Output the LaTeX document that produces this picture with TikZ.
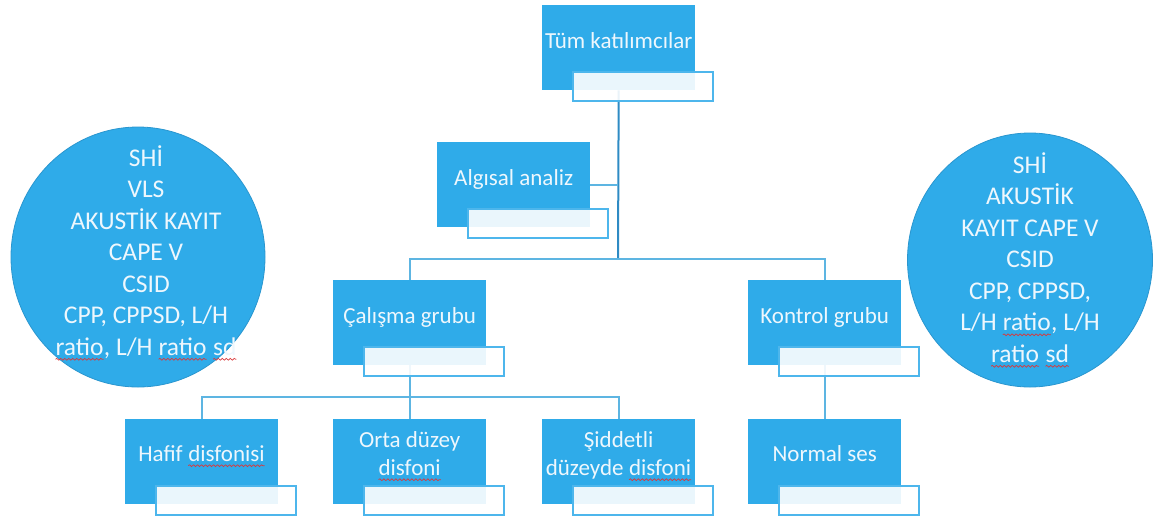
\documentclass[tikz,border=0pt]{standalone}
\usepackage{fontspec}
\setmainfont{Carlito}
\usepackage{tikz}
\usetikzlibrary{shapes.geometric,decorations.pathmorphing}
\usepackage{xcolor}

\definecolor{cardblue}{HTML}{2FABE9}
\definecolor{edgeblue}{HTML}{4DB6EC}
\definecolor{linkblue}{HTML}{5DB5E2}
\definecolor{trunkblue}{HTML}{2E8BC4}
\definecolor{rimblue}{HTML}{2A96CF}
\definecolor{inkwhite}{HTML}{EEF7FD}
\definecolor{squigred}{HTML}{D9383A}

% red wavy underline (spell check marks)
\newcommand{\spellwave}[1]{\tikz[baseline=(w.base)]{%
	\node[rectangle, draw=none, fill=none, minimum width=0pt, minimum height=0pt,
		inner sep=0pt, outer sep=0pt, text height=, text depth=] (w) {#1};
	\draw[squigred, line width=0.7pt, decorate, decoration={snake, amplitude=0.9pt, segment length=4pt}]
		([yshift=-4pt]w.base west) -- ([yshift=-4pt]w.base east);}}

\tikzset{
  card/.style={fill=cardblue, anchor=north west, minimum width=153pt, minimum height=85pt, inner sep=0pt},
  subcard/.style={fill=white, fill opacity=0.9, draw=edgeblue, line width=1.5pt, anchor=north west,
    minimum width=140pt, minimum height=29pt, inner sep=0pt},
  cardtext/.style={text=inkwhite, font=\fontsize{23}{28}\selectfont, align=center, inner sep=0pt, text depth=0pt},
  bubble/.style={ellipse, fill=cardblue, draw=rimblue, line width=0.8pt, inner sep=0pt},
  disctext/.style={text=inkwhite, font=\fontsize{25.5}{31.5}\selectfont, align=center, inner sep=0pt},
  link/.style={linkblue, line width=1.6pt},
  trunk/.style={trunkblue, line width=2pt}
}

\begin{document}
\begin{tikzpicture}[x=1pt, y=-1pt]
		\useasboundingbox (0,0) rectangle (1159,515);

		% blue cards
		\node[card] (tum)  at (542,5)   {};
		\node[card] (alg)  at (437,142) {};
		\node[card] (cal)  at (333,280) {};
		\node[card] (kon)  at (748,280) {};
		\node[card] (haf)  at (125,419) {};
		\node[card] (orta) at (333,419) {};
		\node[card] (sid)  at (542,419) {};
		\node[card] (nor)  at (748,419) {};

		% connectors
		\coordinate (hub) at (618,259);
		\coordinate (bus) at (410,397);
		\draw[trunk] (tum.south) -- (hub);
		\draw[link] (alg.east) -- (alg.east -| hub);
		\draw[link] (cal.north) |- (hub) -| (kon.north);
		\draw[link] (cal.south) -- (orta.north);
		\draw[link] (haf.north) |- (bus) -| (sid.north);
		\draw[link] (kon.south) -- (nor.north);

		% white boxes under each card
		\foreach \c in {tum,alg,cal,kon,haf,orta,sid,nor}{%
			\node[subcard] (\c sub) at ([xshift=30pt, yshift=19pt]\c.south west) {};
		}

		% card texts
		\node[cardtext] (tumtext)  at ([yshift=7pt]tum.center)  {Tüm katılımcılar};
		\node[cardtext] (algtext)  at ([yshift=7pt]alg.center)  {Algısal analiz};
		\node[cardtext] (caltext)  at ([yshift=7pt]cal.center)  {Çalışma grubu};
		\node[cardtext] (kontext)  at ([yshift=7pt]kon.center)  {Kontrol grubu};
		\node[cardtext] (haftext)  at ([yshift=8pt]haf.center)  {Hafif \spellwave{disfonisi}};
		\node[cardtext] (ortatext) at ([yshift=8pt]orta.center) {Orta düzey\\\spellwave{disfoni}};
		\node[cardtext] (sidtext)  at ([yshift=8pt]sid.center)  {Şiddetli\\düzeyde \spellwave{disfoni}};
		\node[cardtext] (nortext)  at ([yshift=8pt]nor.center)  {Normal ses};

		% measure circles
		\node[bubble, minimum width=254pt, minimum height=260pt] (leftdisc)  at (138,257)  {};
		\node[bubble, minimum width=245pt, minimum height=254pt] (rightdisc) at (1030,260) {};
		\node[disctext] (lefttext) at ([xshift=8pt, yshift=4pt]leftdisc.center)
			{SHİ\\VLS\\AKUSTİK KAYIT\\CAPE V\\CSID\\CPP, CPPSD, L/H\\\spellwave{ratio}, L/H \spellwave{ratio} \spellwave{sd}};
		\node[disctext] (righttext) at (rightdisc.center)
			{SHİ\\AKUSTİK\\KAYIT CAPE V\\CSID\\CPP, CPPSD,\\L/H \spellwave{ratio}, L/H\\\spellwave{ratio} \spellwave{sd}};
\end{tikzpicture}
\end{document}
